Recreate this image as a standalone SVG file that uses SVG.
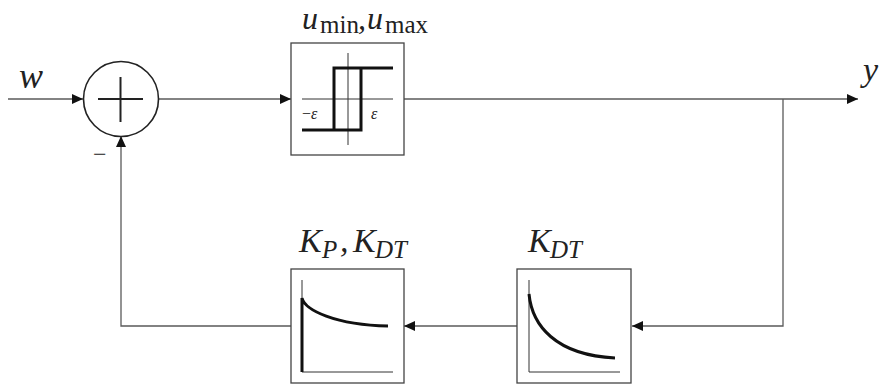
<svg xmlns="http://www.w3.org/2000/svg" width="879" height="385" viewBox="0 0 879 385">
<style>
.ln{fill:none;stroke:#5a5a5a;stroke-width:1.3}
.box{fill:#fff;stroke:#444;stroke-width:1.3}
.ax{fill:none;stroke:#333;stroke-width:1}
.thk{fill:none;stroke:#111;stroke-width:3}
.m{font-family:"Liberation Serif","DejaVu Serif",serif;font-style:italic;fill:#222}
.r{font-family:"Liberation Serif","DejaVu Serif",serif;font-style:normal;fill:#222}
</style>
<defs>
<marker id="ah" viewBox="0 0 11 10" refX="11" refY="5" markerWidth="11" markerHeight="10" markerUnits="userSpaceOnUse" orient="auto">
<path d="M0,0 L11,5 L0,10 Z" fill="#111"/>
</marker>
</defs>
<rect width="879" height="385" fill="#fff"/>
<g id="connectors">
<path class="ln" d="M8,99 H83" marker-end="url(#ah)"/>
<path class="ln" d="M158,99 H291" marker-end="url(#ah)"/>
<path class="ln" d="M404,99 H858" marker-end="url(#ah)"/>
<path class="ln" d="M783,99 V326 H632" marker-end="url(#ah)"/>
<path class="ln" d="M517,326 H404" marker-end="url(#ah)"/>
<path class="ln" d="M291,326 H121 V136" marker-end="url(#ah)"/>
<text class="m" x="19" y="88" font-size="36">w</text>
<text class="m" x="863" y="81" font-size="34">y</text>
<text class="r" x="93" y="162" font-size="24">−</text>
</g>
<g id="sum">
<circle cx="121" cy="99" r="37.5" fill="#fff" stroke="#222" stroke-width="1.6"/>
<path d="M98,99 H143 M120.5,77 V122" stroke="#222" stroke-width="2" fill="none"/>
</g>
<g id="hysteresis">
<rect class="box" x="291" y="43" width="113" height="112"/>
<path class="ax" d="M302,99 H393 M348,53 V145"/>
<path class="thk" d="M302,130 H361 V68 H393 M334,130 V68 H361"/>
<text class="r" x="302" y="119" font-size="16">−<tspan class="m">ε</tspan></text>
<text class="m" x="371" y="119" font-size="16">ε</text>
<text x="302" y="29" font-size="32" class="m">u</text>
<text x="320" y="33" font-size="25" class="r">min</text>
<text x="358" y="29" font-size="32" class="m">,</text>
<text x="367" y="29" font-size="32" class="m">u</text>
<text x="385" y="33" font-size="25" class="r">max</text>
</g>
<g id="kp_kdt">
<rect class="box" x="291" y="269" width="113" height="114"/>
<path class="ax" d="M302,280 V372 H393"/>
<path class="thk" d="M302,372 V298 C305,310 335,325 388,326"/>
<text class="m" x="299" y="252" font-size="34">K</text>
<text class="m" x="322" y="258" font-size="25">P</text>
<text class="m" x="340" y="252" font-size="34">,</text>
<text class="m" x="353" y="252" font-size="34">K</text>
<text class="m" x="375" y="258" font-size="25">DT</text>
</g>
<g id="kdt">
<rect class="box" x="517" y="269" width="114" height="114"/>
<path class="ax" d="M529,280 V372 H620"/>
<path class="thk" d="M529,294 C532,325 555,355 615,358"/>
<text class="m" x="528" y="252" font-size="34">K</text>
<text class="m" x="550" y="258" font-size="25">DT</text>
</g>
</svg>
